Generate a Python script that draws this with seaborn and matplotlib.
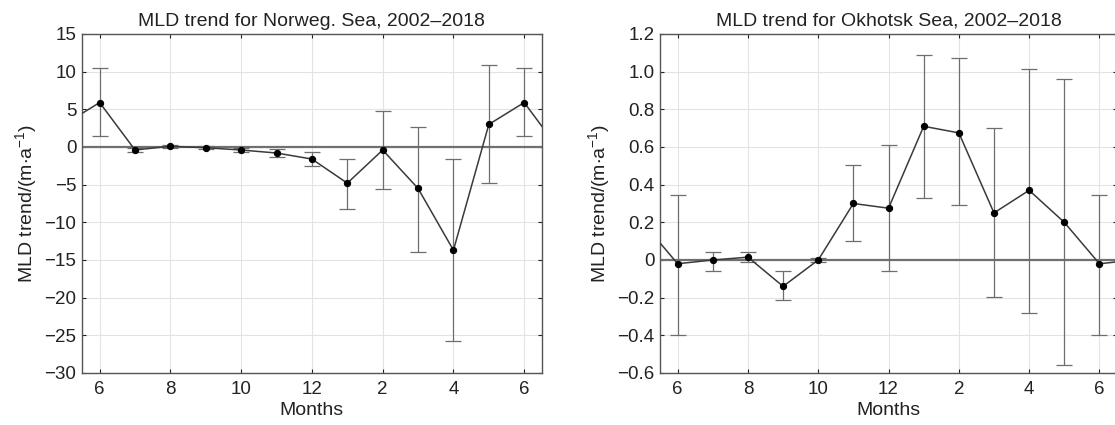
import numpy as np
import pandas as pd
import matplotlib
matplotlib.use("Agg")
import matplotlib.pyplot as plt
import seaborn as sns

# ---- data ----
months = [6, 7, 8, 9, 10, 11, 12, 13, 14, 15, 16, 17, 18]
tick_positions = [6, 8, 10, 12, 14, 16, 18]
tick_labels = ["6", "8", "10", "12", "2", "4", "6"]

nor_trend = [5.9, -0.4, 0.1, -0.1, -0.4, -0.8, -1.6, -4.8, -0.4, -5.5, -13.7, 3.0, 5.9]
nor_upper = [10.5, -0.2, 0.3, 0.1, -0.2, -0.3, -0.7, -1.6, 4.8, 2.6, -1.6, 10.9, 10.5]
nor_lower = [1.4, -0.6, -0.1, -0.3, -0.6, -1.3, -2.5, -8.2, -5.6, -13.9, -25.8, -4.8, 1.4]

okh_trend = [-0.02, 0.0, 0.015, -0.14, 0.0, 0.30, 0.275, 0.71, 0.675, 0.25, 0.37, 0.20, -0.02]
okh_upper = [0.345, 0.045, 0.045, -0.06, 0.01, 0.505, 0.61, 1.09, 1.07, 0.70, 1.015, 0.96, 0.345]
okh_lower = [-0.40, -0.06, -0.01, -0.21, -0.01, 0.10, -0.06, 0.33, 0.29, -0.195, -0.28, -0.56, -0.40]

titles = ["MLD trend for Norweg. Sea, 2002\u20132018", "MLD trend for Okhotsk Sea, 2002\u20132018"]
ylims = [(-30, 15), (-0.6, 1.2)]
yticks = [np.arange(-30, 16, 5), np.round(np.arange(-0.6, 1.21, 0.2), 1)]
ylabel = r"MLD trend/(m$\cdot$a$^{-1}$)"
xlabel = "Months"

sns.set_theme(style="ticks")
plt.rcParams["font.family"] = ["Liberation Sans", "DejaVu Sans"]
plt.rcParams["mathtext.default"] = "regular"
plt.rcParams["axes.unicode_minus"] = True

fig = plt.figure(figsize=(11.15, 4.25), dpi=100)
fig.patch.set_facecolor("white")
ax1 = fig.add_axes([0.0735, 0.1224, 0.4125, 0.7976])
ax2 = fig.add_axes([0.592, 0.1224, 0.4098, 0.7976])

def ytickfmt(v, which):
    if which == 0:
        return f"{int(v)}".replace("-", "\u2212")
    if abs(v) < 1e-9:
        return "0"
    return f"{v:.1f}".replace("-", "\u2212")

for i, (ax, trend, up, lo) in enumerate([(ax1, nor_trend, nor_upper, nor_lower),
                                         (ax2, okh_trend, okh_upper, okh_lower)]):
    m = np.array(months, dtype=float)
    t = np.array(trend)
    # cyclic extension so the line runs off both edges
    ext_x = np.concatenate([[m[0] - 1], m, [m[-1] + 1]])
    ext_y = np.concatenate([[t[-2]], t, [t[1]]])
    ax.grid(True, color="#e3e3e3", lw=0.8, zorder=0)
    ax.axhline(0, color="#707070", lw=1.6, zorder=1)
    ax.errorbar(m, t, yerr=[t - np.array(lo), np.array(up) - t], fmt="none",
                ecolor="#6e6e6e", elinewidth=0.9, capsize=5.5, capthick=0.9, zorder=2)
    df = pd.DataFrame({"x": ext_x, "y": ext_y})
    sns.lineplot(data=df, x="x", y="y", ax=ax, color="#3a3a3a", lw=1.1,
                 marker="o", markersize=4.5, markerfacecolor="black",
                 markeredgecolor="black", zorder=3, sort=False)
    ax.set_xlim(5.5, 18.5)
    ax.set_ylim(*ylims[i])
    ax.set_xticks(tick_positions)
    ax.set_xticklabels(tick_labels)
    ax.set_yticks(yticks[i])
    ax.set_yticklabels([ytickfmt(v, i) for v in yticks[i]])
    ax.set_title(titles[i], fontsize=14, pad=6, color="#222222")
    ax.set_xlabel(xlabel, fontsize=14, labelpad=3, color="#222222")
    ax.set_ylabel(ylabel, fontsize=14, labelpad=4, color="#222222")
    ax.tick_params(axis="x", pad=6)
    ax.tick_params(axis="y", pad=4)
    ax.tick_params(direction="in", top=True, right=True, length=3, width=0.8,
                   labelsize=13.5, colors="#222222")
    for s in ax.spines.values():
        s.set_color("#555555")
        s.set_linewidth(1.0)

fig.savefig("out.png", dpi=100, facecolor="white")
